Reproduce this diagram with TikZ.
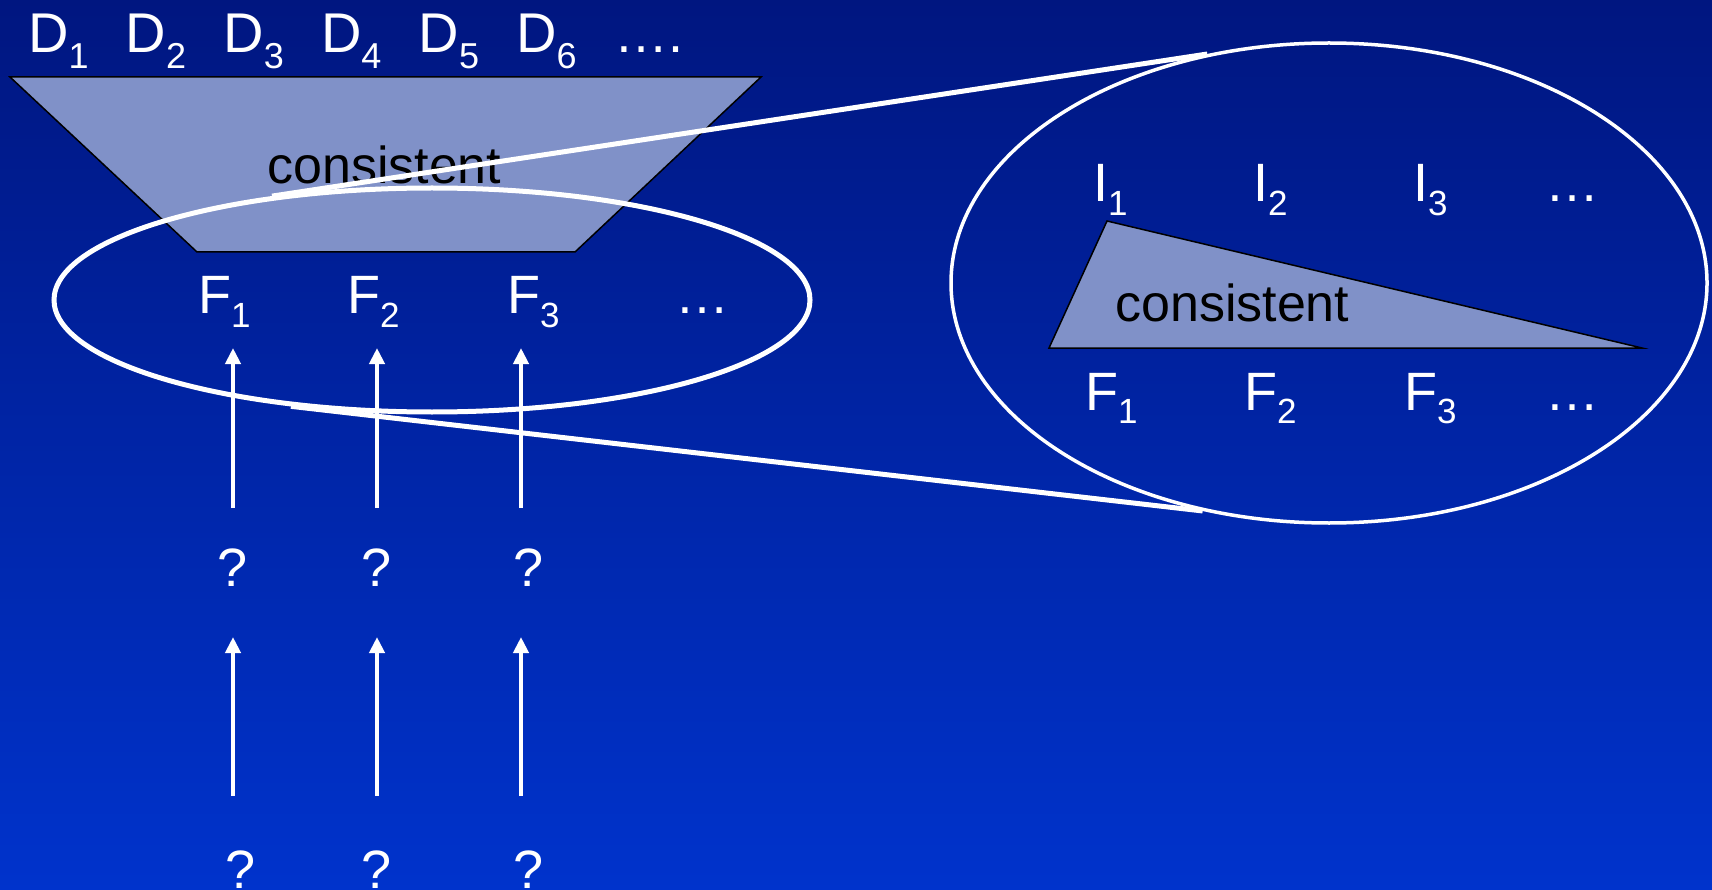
\documentclass[tikz,border=0pt]{standalone}
\usepackage{fontspec}
\setmainfont{Liberation Sans}
\usetikzlibrary{arrows.meta, shapes.geometric, positioning}

\definecolor{bgtop}{RGB}{0,22,128}
\definecolor{bgbot}{RGB}{0,51,204}
\definecolor{wedge}{RGB}{128,145,200}

\newcommand{\sublab}[2]{#1\raisebox{-0.25em}{\fontsize{35}{35}\selectfont #2}}
\newcommand{\dlab}[1]{D\raisebox{-0.27em}{\fontsize{36}{36}\selectfont #1}}

\begin{document}
\begin{tikzpicture}[x=1pt, y=-1pt, >={Triangle[width=15pt,length=16pt]},
  lab/.style={text=white, font=\fontsize{54}{60}\selectfont, inner sep=0pt, anchor=base west},
  word/.style={text=black, font=\fontsize{52}{60}\selectfont, inner sep=0pt, anchor=base west},
  ring/.style={ellipse, draw=white, inner sep=0pt},
  zoomline/.style={white, line width=5pt},
  uparrow/.style={->, white, line width=4.5pt}]
  % Background
  \shade[top color=bgtop, bottom color=bgbot] (0,0) rectangle (1712,890);
  \useasboundingbox (0,0) rectangle (1712,890);
  % Row of D labels
  \foreach \i in {1,...,6}
    \node[lab, font=\fontsize{56}{60}\selectfont] (d\i) at ({28+97.6*(\i-1)},53) {\dlab{\i}};
  \node[lab] (ddots) at (614,53) {….};
  % Trapezoid
  \filldraw[fill=wedge, draw=black, line width=1.5pt]
    (10,77) -- (761,77) -- (575,252) -- (197,252) -- cycle;
  \node[word] (trapword) at (267,184) {consistent};
  % Left ellipse with F row
  \node[ring, line width=5pt, minimum width=756pt, minimum height=224pt] (lens) at (432,300) {};
  \foreach \i/\x in {1/198,2/347,3/507}
    \node[lab] (f\i) at (\x,314) {\sublab{F}{\i}};
  \node[lab] (fdots) at (675,314) {…};
  % Right ellipse (close-up)
  \node[ring, line width=3.5pt, minimum width=756pt, minimum height=480pt] (closeup) at (1329,283) {};
  \foreach \i/\x in {1/1093,2/1253,3/1413}
    \node[lab] (i\i) at (\x,202) {\sublab{I}{\i}};
  \node[lab] (idots) at (1545,202) {…};
  \filldraw[fill=wedge, draw=black, line width=1.5pt]
    (1107,221) -- (1642,348) -- (1049,348) -- cycle;
  \node[word] (triword) at (1115,322) {consistent};
  \foreach \i/\x in {1/1085,2/1244,3/1404}
    \node[lab] (g\i) at (\x,410) {\sublab{F}{\i}};
  \node[lab] (gdots) at (1545,410) {…};
  % Zoom lines
  \draw[zoomline] (lens.147.7) -- (closeup.118.5);
  \draw[zoomline] (lens.217.6) -- (closeup.241.9);
  % Question marks
  \foreach \i/\x in {1/233,2/377,3/529}
    \node[lab, anchor=base] (q\i) at (\x,586) {?};
  \foreach \i/\x in {1/241,2/377,3/529}
    \node[lab, anchor=base] (r\i) at (\x,888) {?};
  % Arrows
  \foreach \i/\x in {1/233,2/377,3/521} {
    \coordinate (hi\i) at (\x,348);
    \coordinate (mid\i) at (\x,508);
    \coordinate (lo\i) at (\x,637);
    \coordinate (base\i) at (\x,796);
    \draw[uparrow] (mid\i) -- (hi\i);
    \draw[uparrow] (base\i) -- (lo\i);
  }
\end{tikzpicture}
\end{document}
